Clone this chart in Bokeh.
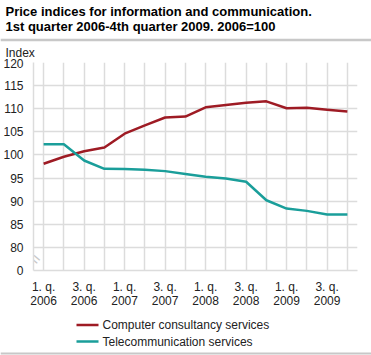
from bokeh.plotting import figure
from bokeh.layouts import column
from bokeh.models import FixedTicker, Range1d
from bokeh.core.properties import value
from bokeh.embed import file_html
from bokeh.resources import INLINE

quarter_labels = ["1. q.\n2006", "2. q.\n2006", "3. q.\n2006", "4. q.\n2006",
                  "1. q.\n2007", "2. q.\n2007", "3. q.\n2007", "4. q.\n2007",
                  "1. q.\n2008", "2. q.\n2008", "3. q.\n2008", "4. q.\n2008",
                  "1. q.\n2009", "2. q.\n2009", "3. q.\n2009", "4. q.\n2009"]
computer = [98.1, 99.6, 100.8, 101.6, 104.6, 106.4, 108.1, 108.3,
            110.3, 110.8, 111.3, 111.6, 110.1, 110.2, 109.8, 109.4]
telecom = [102.3, 102.3, 98.8, 97.0, 96.95, 96.8, 96.5, 95.9,
           95.3, 94.9, 94.2, 90.2, 88.4, 87.9, 87.1, 87.1]
y_ticks = [75, 80, 85, 90, 95, 100, 105, 110, 115, 120]
y_tick_labels = ["0", "80", "85", "90", "95", "100", "105", "110", "115", "120"]
series_names = ["Computer consultancy services", "Telecommunication services"]
series_colors = ["#9e1b24", "#1a9e9a"]
title_lines = ["Price indices for information and communication.",
               "1st quarter 2006-4th quarter 2009. 2006=100"]
y_unit = "Index"

GRID = "#dcdcdc"
SEP = "#c8c8c8"
TXT = "#222222"
FONT = "Liberation Sans"
W = 371
TOTAL_H = 355


def blank_panel(h):
    f = figure(width=W, height=h, output_backend="svg", toolbar_location=None,
               title=None, x_range=Range1d(0, W), y_range=Range1d(h, 0),
               min_border=0, x_axis_type=None, y_axis_type=None, frame_align=False)
    f.outline_line_color = None
    f.xgrid.visible = False
    f.ygrid.visible = False
    f.border_fill_alpha = 0
    f.background_fill_alpha = 0
    return f


# ---------- header: title, separator, unit ----------
HEAD_H = 58
head = blank_panel(HEAD_H)
head.text(x=[5, 5], y=[10.5, 25.5], text=title_lines, text_font=value(FONT),
          text_font_size="13px", text_font_style="bold", text_color="#000000",
          text_baseline="alphabetic")
head.segment(x0=[0], x1=[W], y0=[39.5], y1=[39.5], line_color=SEP, line_width=2.5)
head.text(x=[5], y=[52], text=[y_unit], text_font=value(FONT), text_font_size="12px",
          text_color=TXT, text_baseline="alphabetic")

# ---------- main chart ----------
x = list(range(len(quarter_labels)))
MAIN_H = 252
p = figure(width=W, height=MAIN_H, output_backend="svg", toolbar_location=None,
           title=None, frame_align=False,
           x_range=Range1d(-0.5, len(x) - 0.5), y_range=Range1d(y_ticks[0], y_ticks[-1]),
           min_border_left=27, min_border_right=14, min_border_top=4,
           min_border_bottom=31)
p.outline_line_color = None
p.border_fill_alpha = 0

for vals, col in zip([computer, telecom], series_colors):
    p.line(x, vals, line_color=col, line_width=2.5)

p.xaxis.ticker = FixedTicker(ticks=x[::2])
p.xaxis.major_label_overrides = {i: quarter_labels[i] for i in x[::2]}
p.yaxis.ticker = FixedTicker(ticks=y_ticks)
p.yaxis.major_label_overrides = dict(zip(y_ticks, y_tick_labels))
for ax in (p.xaxis[0], p.yaxis[0]):
    ax.major_label_text_font = FONT
    ax.major_label_text_font_size = "12px"
    ax.major_label_text_color = TXT
    ax.major_label_text_line_height = 1.0
    ax.major_tick_line_color = None
    ax.minor_tick_line_color = None
    ax.axis_line_color = GRID
    ax.axis_line_width = 1.5
p.yaxis.major_label_standoff = 4
p.xaxis.major_label_standoff = 3

p.xgrid.ticker = FixedTicker(ticks=x)
p.ygrid.ticker = FixedTicker(ticks=y_ticks)
p.xgrid.grid_line_color = GRID
p.ygrid.grid_line_color = GRID
p.xgrid.grid_line_width = 1.5
p.ygrid.grid_line_width = 1.5

# axis break marker between "0" and "80"
p.text(x=[-0.5 + 0.1], y=[(y_ticks[0] + y_ticks[1]) / 2], text=["="], angle=-0.7,
       text_font=value(FONT), text_font_size="16px", text_color="#c8c8c8",
       text_align="center", text_baseline="middle")

# ---------- footer: legend and bottom separator ----------
FOOT_H = TOTAL_H - HEAD_H - MAIN_H
foot = blank_panel(FOOT_H)
leg_rows = [14.5, 31]
foot.segment(x0=[76] * 2, x1=[98] * 2, y0=leg_rows, y1=leg_rows,
             line_color=series_colors, line_width=2.5)
foot.text(x=[102] * 2, y=leg_rows, text=series_names, text_font=value(FONT),
          text_font_size="12px", text_color=TXT, text_baseline="middle")
foot.segment(x0=[0], x1=[W], y0=[FOOT_H - 2], y1=[FOOT_H - 2], line_color=SEP,
             line_width=2)

layout = column(head, p, foot, spacing=0)
open("out.html", "w").write(file_html(layout, INLINE))
